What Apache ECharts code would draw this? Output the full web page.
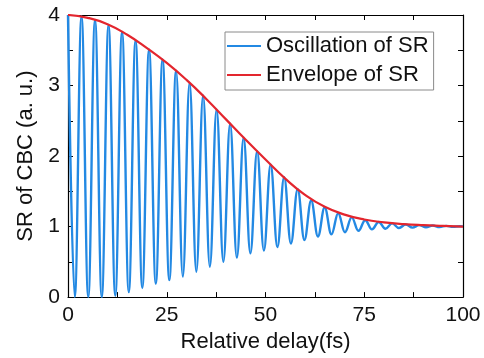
<!DOCTYPE html>
<html>
<head>
<meta charset="utf-8">
<script src="https://cdn.jsdelivr.net/npm/echarts@6/dist/echarts.min.js"></script>
<style>
html,body{margin:0;padding:0;background:#fff;}
#chart{width:484px;height:358px;}
</style>
</head>
<body>
<div id="chart"></div>
<script>
// Oscillation of SR: alternating peaks and troughs
const oscX = [0, 1.71, 3.42, 5.13, 6.84, 8.55, 10.26, 11.97, 13.68, 15.39, 17.10, 18.81, 20.52, 22.23, 23.94, 25.65, 27.36, 29.07, 30.78, 32.49, 34.20, 35.91, 37.62, 39.33, 41.04, 42.75, 44.46, 46.17, 47.88, 49.59, 51.30, 53.01, 54.72, 56.43, 58.14, 59.85, 61.56, 63.27, 64.98, 66.69, 68.40, 70.11, 71.82, 73.53, 75.24, 76.95, 78.66, 80.37, 82.08, 83.79, 85.50, 87.21, 88.92, 90.63, 92.34, 94.05, 95.76, 97.47, 99.18, 100];
const oscY = [4.00, 0.00, 3.98, 0.00, 3.93, 0.00, 3.86, 0.02, 3.76, 0.07, 3.64, 0.13, 3.51, 0.19, 3.37, 0.24, 3.21, 0.29, 3.04, 0.36, 2.86, 0.43, 2.66, 0.50, 2.46, 0.56, 2.26, 0.62, 2.07, 0.66, 1.88, 0.71, 1.70, 0.76, 1.53, 0.81, 1.37, 0.86, 1.27, 0.89, 1.19, 0.92, 1.13, 0.94, 1.09, 0.96, 1.065, 0.97, 1.045, 0.98, 1.03, 0.985, 1.02, 0.99, 1.015, 0.993, 1.01, 0.996, 1.005, 1.003];
// Envelope of SR
const envX = [0, 5, 10, 15, 20, 25, 30, 35, 40, 45, 50, 55, 60, 65, 70, 75, 80, 85, 90, 95, 100];
const envY = [4.00, 3.96, 3.87, 3.72, 3.53, 3.32, 3.08, 2.81, 2.52, 2.23, 1.95, 1.68, 1.45, 1.28, 1.17, 1.10, 1.06, 1.035, 1.02, 1.01, 1.00];
// Axis ticks
const xTicks = [0, 25, 50, 75, 100];
const yTicks = [0, 1, 2, 3, 4];
const seriesNames = ['Oscillation of SR', 'Envelope of SR'];

const FONT = 'Liberation Sans, Arial, sans-serif';
const chart = echarts.init(document.getElementById('chart'), null, {renderer: 'canvas'});
const tickCommon = {show: true, inside: true, length: 5, lineStyle: {color: '#000', width: 1}};
const minorCommon = {show: true, splitNumber: 2, length: 5, lineStyle: {color: '#000', width: 1}};
const xBase = {
  type: 'value', min: xTicks[0], max: xTicks[xTicks.length - 1], interval: xTicks[1] - xTicks[0],
  axisLine: {show: true, onZero: false, lineStyle: {color: '#000', width: 1.2}},
  axisTick: tickCommon, minorTick: minorCommon, splitLine: {show: false}
};
const yBase = {
  type: 'value', min: yTicks[0], max: yTicks[yTicks.length - 1], interval: yTicks[1] - yTicks[0],
  axisLine: {show: true, onZero: false, lineStyle: {color: '#000', width: 1.2}},
  axisTick: tickCommon, minorTick: minorCommon, splitLine: {show: false}
};
chart.setOption({
  animation: false,
  backgroundColor: '#fff',
  grid: {left: 68, right: 21, top: 15, bottom: 55},
  legend: {
    data: seriesNames,
    orient: 'vertical',
    left: 225, top: 32,
    icon: 'rect', itemWidth: 34, itemHeight: 2, itemGap: 7,
    borderColor: '#8a8a8a', borderWidth: 1, borderRadius: 0,
    padding: [3, 5, 4, 2],
    textStyle: {fontFamily: FONT, fontSize: 22, color: '#111', lineHeight: 22, padding: [0, 0, 0, 0]}
  },
  xAxis: [
    Object.assign({}, xBase, {
      position: 'bottom',
      name: 'Relative delay(fs)', nameLocation: 'middle', nameGap: 31,
      nameTextStyle: {fontFamily: FONT, fontSize: 22, color: '#111'},
      axisLabel: {show: true, margin: 8, fontFamily: FONT, fontSize: 21, color: '#111'}
    }),
    Object.assign({}, xBase, {position: 'top', axisLabel: {show: false}})
  ],
  yAxis: [
    Object.assign({}, yBase, {
      position: 'left',
      name: 'SR of CBC (a. u.)', nameLocation: 'middle', nameGap: 30,
      nameTextStyle: {fontFamily: FONT, fontSize: 22, color: '#111'},
      axisLabel: {show: true, margin: 8, fontFamily: FONT, fontSize: 21, color: '#111'}
    }),
    Object.assign({}, yBase, {position: 'right', axisLabel: {show: false}})
  ],
  series: [
    {
      name: seriesNames[0], type: 'line', xAxisIndex: 0, yAxisIndex: 0,
      data: oscX.map((x, i) => [x, oscY[i]]),
      smooth: 0.4, smoothMonotone: 'x', showSymbol: false, symbol: 'none',
      lineStyle: {color: '#2389e3', width: 2.4}, itemStyle: {color: '#2389e3'}, z: 2
    },
    {
      name: seriesNames[1], type: 'line', xAxisIndex: 0, yAxisIndex: 0,
      data: envX.map((x, i) => [x, envY[i]]),
      smooth: true, showSymbol: false, symbol: 'none',
      lineStyle: {color: '#e3262e', width: 2.2}, itemStyle: {color: '#e3262e'}, z: 3
    }
  ]
});
</script>
</body>
</html>
